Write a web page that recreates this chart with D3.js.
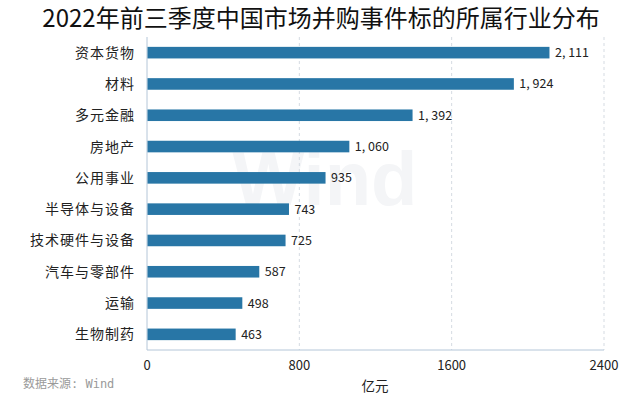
<!DOCTYPE html>
<head>
<meta charset="utf-8">
<title>并购事件行业分布</title>
<style>
	body { margin:0; background:#ffffff; font-family:"Noto Sans CJK SC", sans-serif; }
	svg { display:block; }
	.grid line { stroke:#d5dbe2; stroke-dasharray:3,3; }
	.lbl { font-size:14px; fill:#222; }
	.val { font-size:12.5px; fill:#222; }
</style>
</head>
<body>
<script src="https://cdn.jsdelivr.net/npm/d3@7"></script>
<script>
	var industries = ["资本货物","材料","多元金融","房地产","公用事业","半导体与设备","技术硬件与设备","汽车与零部件","运输","生物制药"];
	var amounts = [2111,1924,1392,1060,935,743,725,587,498,463];
	var ticks = [0,800,1600,2400];

	var width = 640, height = 399;
	var pLeft = 147, pRight = 604, pTop = 37, pBottom = 350;

	var svg = d3.select("body").append("svg")
		.attr("width", width).attr("height", height);

	// watermark
	svg.append("text")
		.attr("x", 325).attr("y", 205)
		.attr("text-anchor", "middle")
		.style("font-family", "Arial, 'Liberation Sans', sans-serif")
		.style("font-weight", "bold")
		.style("font-size", "76px")
		.style("fill", "#f4f5f7")
		.text("Wind");

	var x = d3.scaleLinear().domain([0,2400]).range([pLeft,pRight]);
	var y = d3.scaleBand().domain(industries).range([pTop,pBottom]).paddingInner(0.63).paddingOuter(0.315);

	// gridlines
	svg.append("g").attr("class","grid")
		.selectAll("line").data(ticks.slice(1))
		.enter().append("line")
		.attr("x1", function(d){return x(d)}).attr("x2", function(d){return x(d)})
		.attr("y1", pTop).attr("y2", pBottom);

	// axes lines
	svg.append("line").attr("x1",pLeft).attr("x2",pLeft).attr("y1",pTop).attr("y2",pBottom)
		.style("stroke","#b4c6d8");
	svg.append("line").attr("x1",pLeft).attr("x2",pRight).attr("y1",pBottom).attr("y2",pBottom)
		.style("stroke","#b4c6d8");

	// bars
	svg.append("g").selectAll("rect").data(amounts)
		.enter().append("rect")
		.attr("x", pLeft + 0.5)
		.attr("y", function(d,i){return y(industries[i])})
		.attr("width", function(d){return x(d) - pLeft})
		.attr("height", y.bandwidth())
		.style("fill","#2876a6");

	// value labels
	var fmt = d3.format(",");
	svg.append("g").selectAll("text").data(amounts)
		.enter().append("text").attr("class","val")
		.attr("x", function(d){return x(d) + 6})
		.attr("y", function(d,i){return y(industries[i]) + y.bandwidth()/2})
		.attr("dy","0.36em")
		.text(function(d){return fmt(d).replace(",", ", ")});

	// category labels
	svg.append("g").selectAll("text").data(industries)
		.enter().append("text").attr("class","lbl")
		.attr("x", 135)
		.attr("y", function(d){return y(d) + y.bandwidth()/2})
		.attr("dy","0.36em")
		.attr("text-anchor","end")
		.style("letter-spacing","1px")
		.text(function(d){return d});

	// tick labels
	svg.append("g").selectAll("text").data(ticks)
		.enter().append("text")
		.attr("x", function(d){return x(d)})
		.attr("y", 370)
		.attr("text-anchor","middle")
		.style("font-size","13px").style("fill","#222")
		.text(function(d){return d});

	svg.append("text")
		.attr("x", 375).attr("y", 391)
		.attr("text-anchor","middle")
		.style("font-size","13.5px").style("fill","#222")
		.text("亿元");

	svg.append("text")
		.attr("x", 23).attr("y", 388)
		.style("font-size","12px").style("fill","#9a9a9a")
		.style("font-family","'DejaVu Sans Mono', 'Noto Sans CJK SC', monospace")
		.text("数据来源: Wind");

	// title
	svg.append("text")
		.attr("x", 321).attr("y", 27)
		.attr("text-anchor","middle")
		.style("font-size","24px").style("fill","#111")
		.text("2022年前三季度中国市场并购事件标的所属行业分布");
</script>
</body>
